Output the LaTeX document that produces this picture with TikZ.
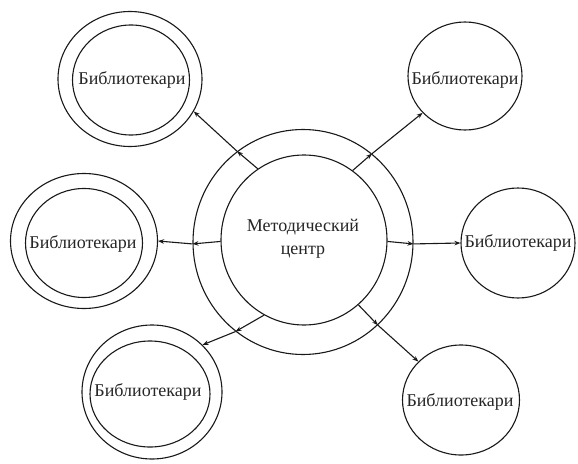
\documentclass[tikz,border=0pt]{standalone}
\usepackage{fontspec}
\setmainfont{Liberation Serif}
\usetikzlibrary{shapes.geometric,arrows.meta}
\begin{document}
\begin{tikzpicture}[x=1pt,y=-1pt,
  ring/.style={draw=black!90, line width=1.1pt, ellipse, inner sep=0pt},
  lib/.style={font=\fontsize{18}{23}\selectfont, text=black!85, inner sep=0pt, align=center},
  conn/.style={draw=black!90, line width=1.1pt, -{Stealth[length=6pt,width=4.5pt]}},
]
\useasboundingbox[fill=white] (0,0) rectangle (578,463);
% centre
\node[ring, minimum width=220pt, minimum height=225pt] (co) at (303,242) {};
\node[ring, minimum width=166pt, minimum height=170pt] (ci) at (304,240) {};
\node[lib] (tc) at (303,239) {Методический\\центр};
% satellites
\node[ring, minimum width=144pt, minimum height=135pt] (s1o) at (130,79) {};
\node[ring, minimum width=117pt, minimum height=110pt] (s1i) at (131,80) {};
\node[lib] (t1) at (132,80) {Библиотекари};
\node[ring, minimum width=114pt, minimum height=108pt] (s2) at (465,76) {};
\node[lib] (t2) at (465,80) {Библиотекари};
\node[ring, minimum width=147pt, minimum height=135pt] (s3o) at (84,241) {};
\node[ring, minimum width=117pt, minimum height=109pt] (s3i) at (84,243) {};
\node[lib] (t3) at (83,244) {Библиотекари};
\node[ring, minimum width=114pt, minimum height=110pt] (s4) at (518,243) {};
\node[lib] (t4) at (518,243) {Библиотекари};
\node[ring, minimum width=140pt, minimum height=134pt] (s5o) at (152,392) {};
\node[ring, minimum width=120pt, minimum height=106pt] (s5i) at (150,394) {};
\node[lib] (t5) at (148,392) {Библиотекари};
\node[ring, minimum width=117pt, minimum height=110pt] (s6) at (461,400) {};
\node[lib] (t6) at (460,402) {Библиотекари};
% connectors
\draw[conn] (ci.123) -- (co.126);
\draw[conn] (co.126) -- (s1o.-27);
\draw[conn] (ci.55) -- (co.52);
\draw[conn] (co.52) -- (s2.-139);
\draw[conn] (ci.181) -- (co.181);
\draw[conn] (co.181) -- (s3o.0);
\draw[conn] (ci.-1) -- (co.-1);
\draw[conn] (co.-1) -- (s4.180);
\draw[conn] (ci.-118) -- (co.-127.4);
\draw[conn] (co.-127.4) -- (s5o.43);
\draw[conn] (ci.-50) -- (co.-48);
\draw[conn] (co.-48) -- (s6.138);
\end{tikzpicture}
\end{document}
